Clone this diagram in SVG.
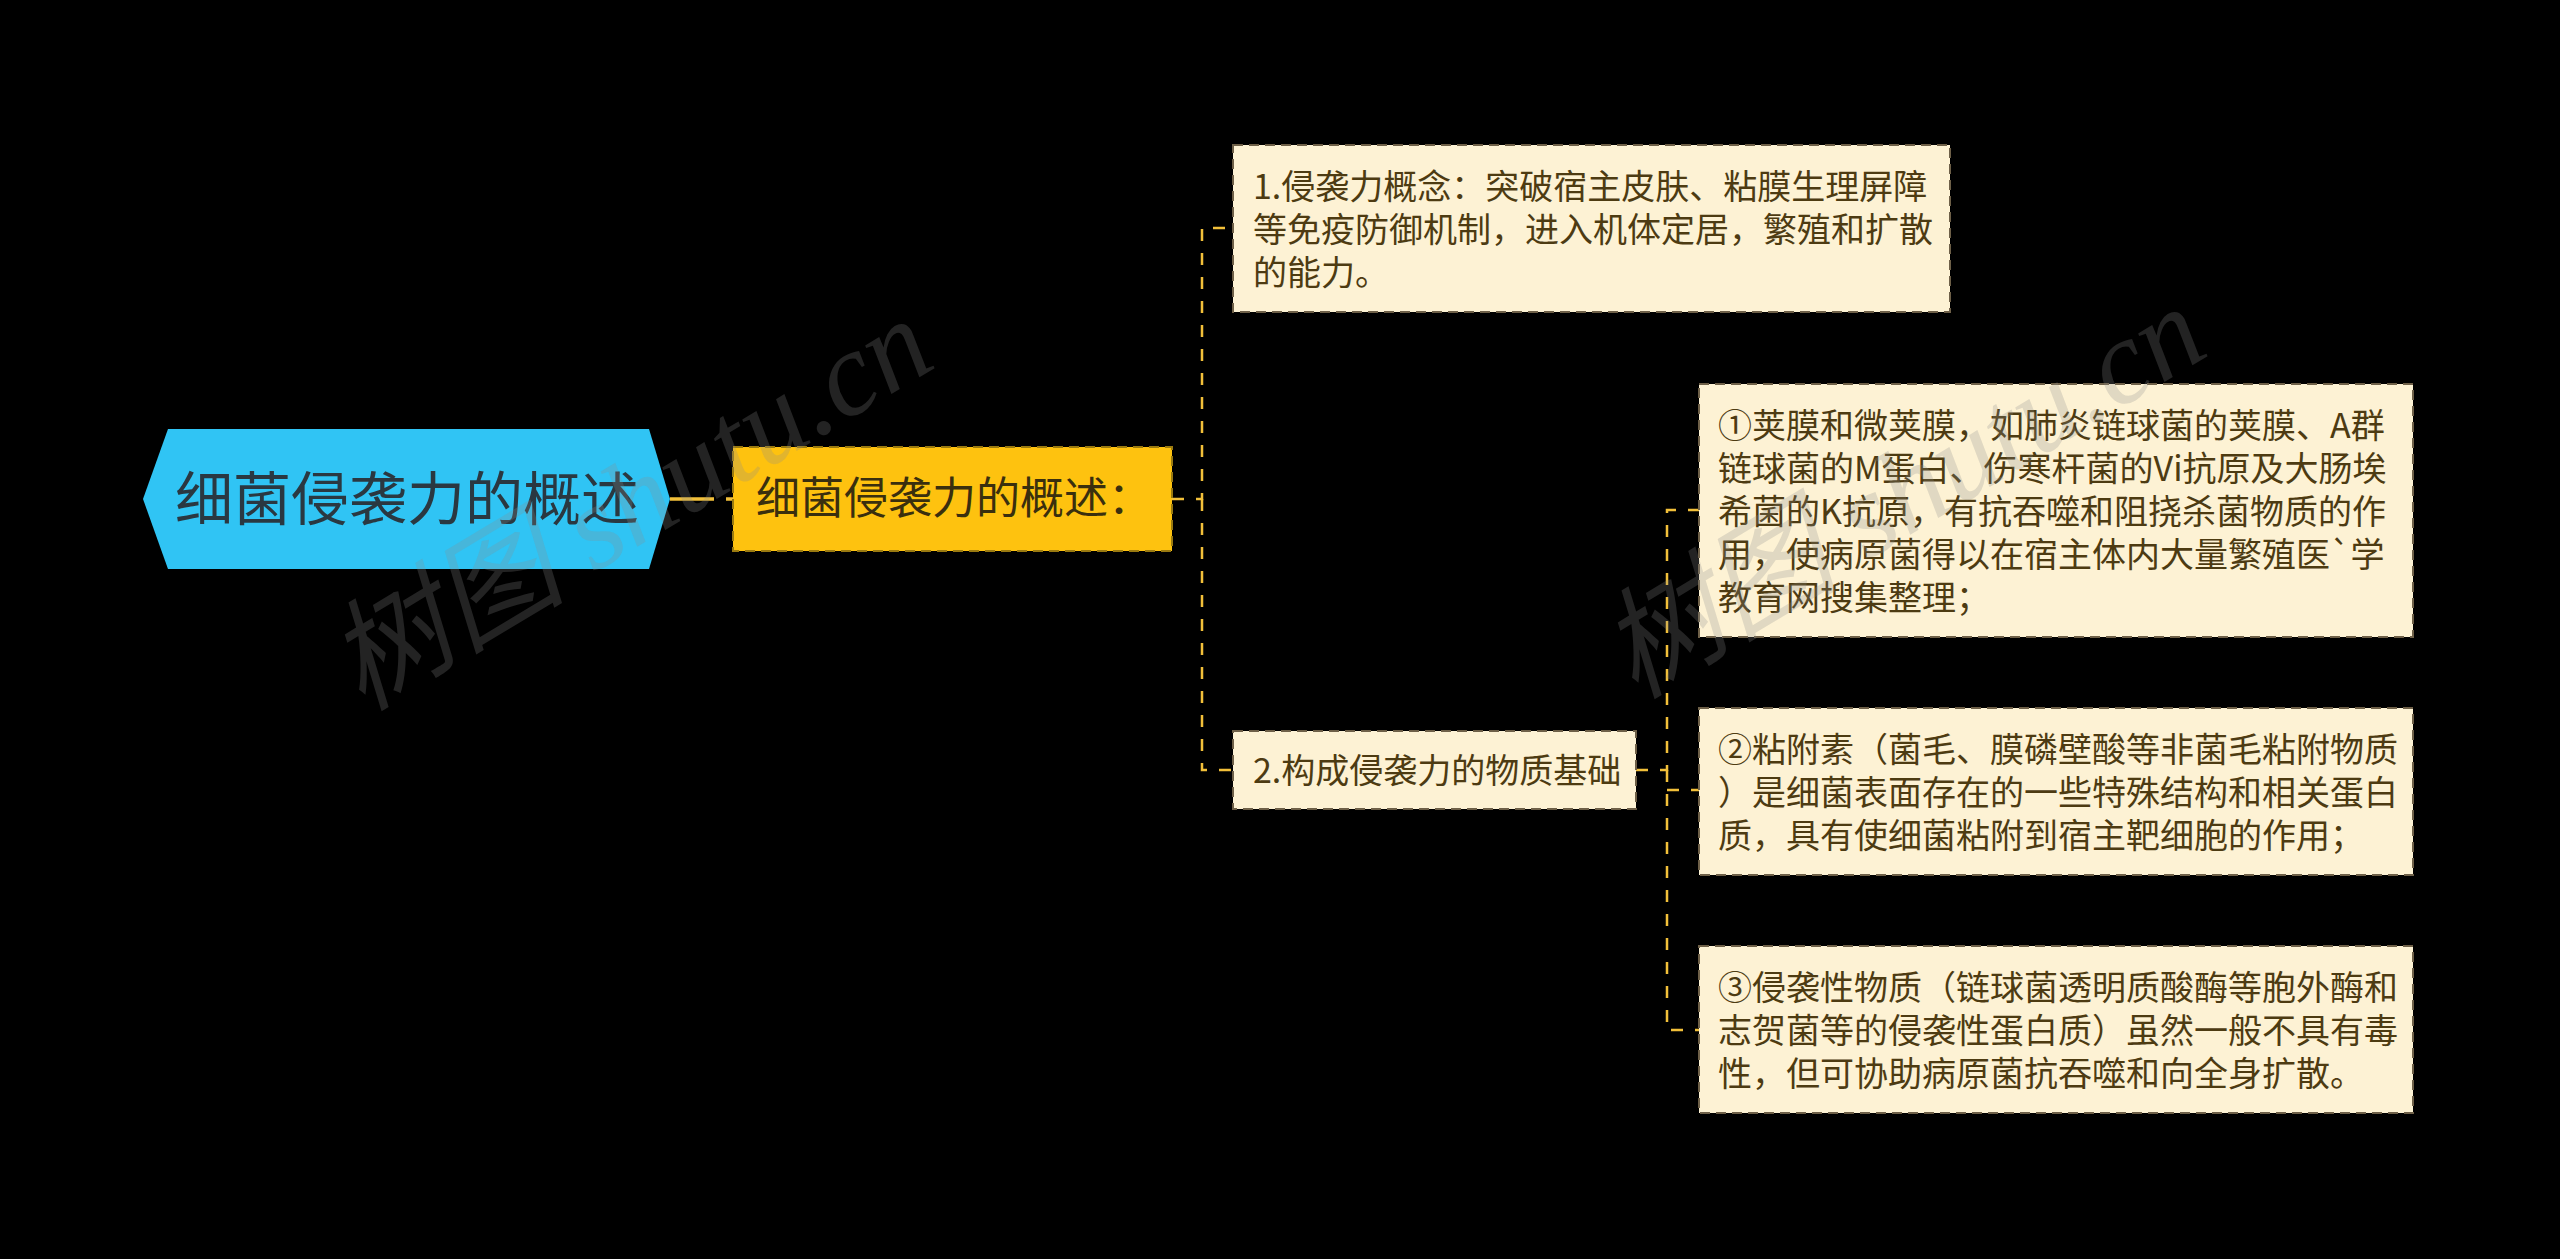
<svg xmlns="http://www.w3.org/2000/svg" width="2560" height="1259" viewBox="0 0 2560 1259">
<style>
.bg{fill:#000}
.conn{fill:none;stroke:#f2c03a;stroke-width:2.5;stroke-dasharray:12 12}
.conn-main{fill:none;stroke:#f2c03a;stroke-width:3.5;stroke-dasharray:44 12}
.root{fill:#30c4f4}
.rootText{font-family:"Noto Sans CJK SC","Noto Sans",sans-serif;font-size:58px;fill:#2a3841;text-anchor:middle}
.sub{fill:#fec20f;stroke:#9a7a10;stroke-width:2;stroke-dasharray:10 6}
.subText{font-family:"Noto Sans CJK SC","Noto Sans",sans-serif;font-size:44px;fill:#3a2f0e}
.leaf{fill:#fdf2d4;stroke:#6e6048;stroke-width:2;stroke-dasharray:10 6}
.leafText{font-family:"Noto Sans CJK SC","Noto Sans",sans-serif;font-size:34px;fill:#4d3b12}
.wm{font-family:"Liberation Serif","Noto Sans CJK SC",serif;font-style:italic;font-size:120px;fill:#8a8a8a;fill-opacity:0.25}
</style>
<rect class="bg" x="0" y="0" width="2560" height="1259"/>
<g id="connectors">
<path class="conn-main" d="M670 499 H733"/>
<path class="conn" d="M1172 499 H1202 V228 H1233"/>
<path class="conn" d="M1202 499 V770 H1233"/>
<path class="conn" d="M1636 770 H1667 V510 H1699"/>
<path class="conn" d="M1667 770 V1030 H1699"/>
<path class="conn" d="M1667 790 H1699"/>
</g>
<g id="node-root">
<polygon class="root" points="143,499 168,429 649,429 670,499 649,569 168,569"/>
<text class="rootText" x="407" y="520">细菌侵袭力的概述</text>
</g>
<g id="node-summary">
<rect class="sub" x="733" y="447" width="439" height="104"/>
<text class="subText" x="756" y="514">细菌侵袭力的概述：</text>
</g>
<g id="node-concept">
<rect class="leaf" x="1233" y="145" width="717" height="167"/>
<text class="leafText" x="1253" y="199">1.侵袭力概念：突破宿主皮肤、粘膜生理屏障</text>
<text class="leafText" x="1253" y="242">等免疫防御机制，进入机体定居，繁殖和扩散</text>
<text class="leafText" x="1253" y="285">的能力。</text>
</g>
<g id="node-basis">
<rect class="leaf" x="1233" y="731" width="403" height="78"/>
<text class="leafText" x="1253" y="783">2.构成侵袭力的物质基础</text>
</g>
<g id="node-capsule">
<rect class="leaf" x="1699" y="384" width="714" height="253"/>
<text class="leafText" x="1718" y="438">①荚膜和微荚膜，如肺炎链球菌的荚膜、A群</text>
<text class="leafText" x="1718" y="481">链球菌的M蛋白、伤寒杆菌的Vi抗原及大肠埃</text>
<text class="leafText" x="1718" y="524">希菌的K抗原，有抗吞噬和阻挠杀菌物质的作</text>
<text class="leafText" x="1718" y="567">用，使病原菌得以在宿主体内大量繁殖医`学</text>
<text class="leafText" x="1718" y="610">教育网搜集整理；</text>
</g>
<g id="node-adhesin">
<rect class="leaf" x="1699" y="708" width="714" height="167"/>
<text class="leafText" x="1718" y="762">②粘附素（菌毛、膜磷壁酸等非菌毛粘附物质</text>
<text class="leafText" x="1718" y="805">）是细菌表面存在的一些特殊结构和相关蛋白</text>
<text class="leafText" x="1718" y="848">质，具有使细菌粘附到宿主靶细胞的作用；</text>
</g>
<g id="node-invasive">
<rect class="leaf" x="1699" y="946" width="714" height="167"/>
<text class="leafText" x="1718" y="1000">③侵袭性物质（链球菌透明质酸酶等胞外酶和</text>
<text class="leafText" x="1718" y="1043">志贺菌等的侵袭性蛋白质）虽然一般不具有毒</text>
<text class="leafText" x="1718" y="1086">性，但可协助病原菌抗吞噬和向全身扩散。</text>
</g>
<g id="watermarks">
<text class="wm" transform="translate(362 712) rotate(-31)">树图 shutu.cn</text>
<text class="wm" transform="translate(1635 700) rotate(-31)">树图 shutu.cn</text>
</g>
</svg>
